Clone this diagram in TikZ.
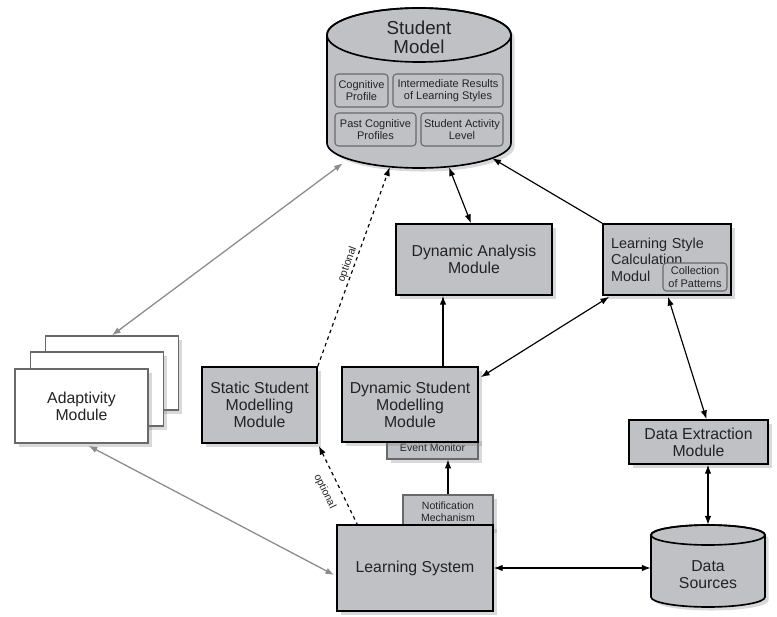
\documentclass[tikz,border=0pt]{standalone}
\usepackage{fontspec}
\setmainfont{Liberation Sans}
\usetikzlibrary{arrows.meta,calc,shadows}

\definecolor{boxgray}{RGB}{192,193,196}
\definecolor{inkgray}{RGB}{35,35,38}
\definecolor{linkgray}{RGB}{140,140,142}
\definecolor{rimgray}{RGB}{105,105,108}

\tikzset{
  softshadow/.style={drop shadow={shadow xshift=3pt, shadow yshift=-3pt, opacity=0.3}},
  module/.style={draw=black, line width=1.4pt, fill=boxgray, text=inkgray, align=center,
    inner sep=0pt, font=\fontsize{13.5}{14.5}\selectfont, softshadow},
  adaptbox/.style={draw=rimgray, line width=1.2pt, fill=white, text=inkgray, align=center,
    inner sep=0pt, minimum width=3.99cm, minimum height=2.22cm,
    font=\fontsize{13.5}{14.5}\selectfont, softshadow},
  part/.style={draw=rimgray, line width=0.9pt, rounded corners=3pt, fill=boxgray, text=inkgray,
    align=center, inner sep=0pt, minimum height=0.99cm, font=\fontsize{9.4}{10.6}\selectfont},
  tabbox/.style={draw=rimgray, line width=0.9pt, fill=boxgray, text=inkgray, align=center,
    inner sep=0pt, font=\fontsize{9}{10}\selectfont, softshadow},
  link/.style={draw=black, line width=1pt},
  faint/.style={draw=linkgray, line width=1.1pt},
  opt/.style={font=\fontsize{9}{10}\selectfont, text=inkgray, inner sep=1pt}
}

\begin{document}
\begin{tikzpicture}[x=0.03cm, y=0.03cm, >={Latex[length=7.5pt,width=5.5pt]}]
    \useasboundingbox (0,0) rectangle (777,-617);

    \path[draw=black, line width=1.4pt, fill=boxgray, softshadow]
        (327,-35) -- (327,-143) arc[start angle=180, end angle=360, x radius=92, y radius=25]
        -- (511,-35) arc[start angle=0, end angle=180, x radius=92, y radius=27] -- cycle;
    \draw[line width=1.4pt] (419,-35) ellipse[x radius=92, y radius=27];
    \node[minimum width=5.52cm, minimum height=4.8cm, inner sep=0pt] (sm) at (419,-88) {};
    \node[text=inkgray, align=center, font=\fontsize{16}{16.5}\selectfont] (smlabel) at (419,-37) {Student\\Model};
    \node[part, minimum width=1.59cm] (cp) at (361.5,-90.5) {Cognitive\\Profile};
    \node[part, minimum width=3.3cm] (ir) at (448,-90.5) {Intermediate Results\\of Learning Styles};
    \node[part, minimum width=2.43cm] (pcp) at (375.5,-129.5) {Past Cognitive\\Profiles};
    \node[part, minimum width=2.46cm] (sal) at (462,-129.5) {Student Activity\\Level};

    \node[module, minimum width=4.68cm, minimum height=2.13cm] (da) at (474,-259.5) {Dynamic Analysis\\Module};
    \node[module, minimum height=2.13cm, text width=3.36cm, inner xsep=0.24cm, align=left,
          font=\fontsize{12.3}{14.2}\selectfont] (ls) at (667,-259.5) {Learning Style\\Calculation\\Modul};
    \node[part, minimum width=1.92cm, minimum height=0.84cm] (cop) at (695,-277) {Collection\\of Patterns};

    \node[adaptbox] (ad3) at (112,-373) {};
    \node[adaptbox] (ad2) at (97,-389) {};
    \node[adaptbox] (ad1) at (81.5,-406) {Adaptivity\\Module};

    \node[module, minimum width=3.45cm, minimum height=2.28cm] (static) at (259.5,-405) {Static Student\\Modelling\\Module};
    \node[tabbox, minimum width=2.73cm, minimum height=0.66cm] (em) at (432.5,-448) {Event Monitor};
    \node[module, minimum width=4.08cm, minimum height=2.25cm] (dsmm) at (410,-404.5) {Dynamic Student\\Modelling\\Module};

    \node[tabbox, minimum width=2.7cm, minimum height=1.02cm] (notif) at (448,-512) {Notification\\Mechanism};
    \node[module, minimum width=4.68cm, minimum height=2.58cm] (lsys) at (415,-568) {Learning System};

    \node[module, minimum width=4.17cm, minimum height=1.32cm] (de) at (698.5,-442) {Data Extraction\\Module};

    \path[draw=black, line width=1.4pt, fill=boxgray, softshadow]
        (651,-535) -- (651,-597) arc[start angle=180, end angle=360, x radius=57, y radius=10]
        -- (765,-535) arc[start angle=0, end angle=180, x radius=57, y radius=10] -- cycle;
    \draw[line width=1.4pt] (708,-535) ellipse[x radius=57, y radius=10];
    \node[minimum width=3.42cm, minimum height=2.46cm, inner sep=0pt] (ds) at (708,-566) {};
    \node[text=inkgray, align=center, font=\fontsize{13.5}{14.5}\selectfont] (dslabel) at (708,-575) {Data\\Sources};

    \draw[faint,<->] (ad3.north) -- ($(sm.south west)+(16,5)$);
    \draw[faint,<->] ($(ad1.south)+(7,-2)$) -- ($(lsys.west)+(-2,-7)$);

    \draw[link,dashed,->] (static.north east) -- node[sloped,above,opt] {optional} ($(sm.south west)+(63,1)$);
    \draw[link,dashed,<-] ($(static.south east)+(1,-2)$) -- node[sloped,below=7pt,opt] {optional} ($(lsys.north west)+(21,0)$);

    \draw[link,<->] ($(sm.south)+(30,1)$) -- ($(da.north)+(-3,0)$);
    \draw[link,->] (ls.north west) -- ($(sm.south east)+(-19,10)$);
    \draw[link,->] ($(dsmm.north)+(33,0)$) -- ($(da.south)+(-31,0)$);
    \draw[link,<->] ($(dsmm.north east)+(2,-11)$) -- ($(ls.south west)+(7,-1)$);
    \draw[link,<->] ($(ls.south)+(1,-1)$) -- ($(de.north)+(8,0)$);
    \draw[link,<->] ($(de.south)+(9.5,0)$) -- (ds.north);
    \draw[link,<->] (lsys.east) -- (ds.west |- lsys.east);
    \draw[link,->] (notif.north) -- (notif.north |- em.south);
\end{tikzpicture}
\end{document}
